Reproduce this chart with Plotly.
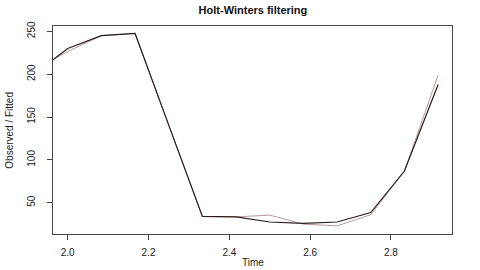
import plotly.graph_objects as go

time = [1.9167, 2.0, 2.0833, 2.1667, 2.25, 2.3333, 2.4167, 2.5, 2.5833, 2.6667, 2.75, 2.8333, 2.9167]
observed = [200, 230, 245, 247.5, 140.5, 34, 33.5, 27.5, 26, 27.5, 38.5, 87, 188]
fitted = [205, 226.5, 245, 247.5, 140.5, 34, 33.5, 35.5, 25, 23, 36, 87, 199]

xticks = [2.0, 2.2, 2.4, 2.6, 2.8]
yticks = [50, 100, 150, 200, 250]

fig = go.Figure()
fig.add_trace(go.Scatter(x=time, y=fitted, mode="lines",
                         line=dict(color="#b89a9a", width=1), showlegend=False))
fig.add_trace(go.Scatter(x=time, y=observed, mode="lines",
                         line=dict(color="#2a1c1c", width=1.2), showlegend=False))

font = dict(family="Liberation Sans, Arial, sans-serif", size=10, color="#222")
fig.update_layout(
    width=480, height=270,
    margin=dict(l=53, r=28, t=26, b=36, autoexpand=False),
    paper_bgcolor="white", plot_bgcolor="white",
    font=font,
    title=dict(text="<b>Holt-Winters filtering</b>", x=0.527, xanchor="center",
               y=0.975, yanchor="top", font=dict(size=11, color="#111")),
    annotations=[
        dict(text="Time", xref="paper", yref="paper", x=0.5, y=-0.173,
             xanchor="center", yanchor="bottom", showarrow=False, font=dict(size=10)),
        dict(text="Observed / Fitted", xref="paper", yref="paper", x=-0.111, y=0.5,
             xanchor="center", yanchor="middle", textangle=-90, showarrow=False,
             font=dict(size=10)),
    ],
)
fig.update_xaxes(range=[1.9636, 2.951], tickvals=xticks, ticktext=["2.0", "2.2", "2.4", "2.6", "2.8"],
                 showgrid=False, zeroline=False, showline=True, mirror=True, automargin=False,
                 linecolor="#444", linewidth=1, ticks="outside", ticklen=5, tickcolor="#444",
                 ticklabelstandoff=4)
fig.update_yaxes(range=[13.5, 256.2], tickvals=yticks, tickangle=-90,
                 showgrid=False, zeroline=False, showline=True, mirror=True, automargin=False,
                 linecolor="#444", linewidth=1, ticks="outside", ticklen=5, tickcolor="#444",
                 ticklabelstandoff=8)

fig.write_html("out.html")
